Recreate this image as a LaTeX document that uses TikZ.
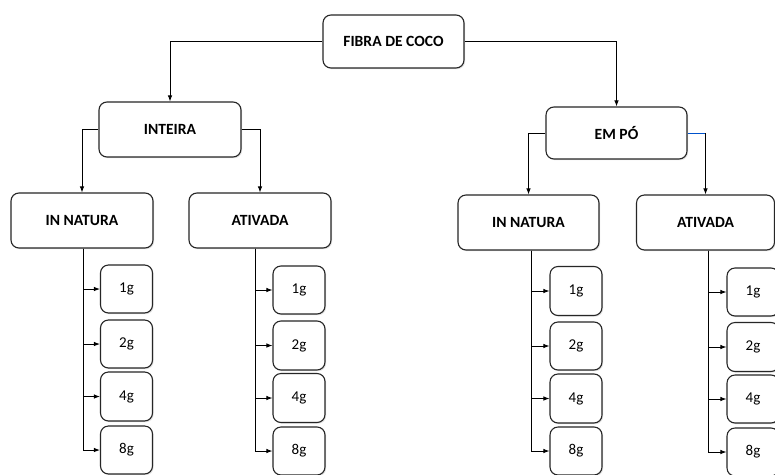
\documentclass[tikz,border=0pt]{standalone}
\usepackage{fontspec}
\setmainfont{Carlito}
\usetikzlibrary{arrows.meta,shadows}
\begin{document}
\begin{tikzpicture}[x=1pt,y=-1pt,
  box/.style={draw=black!85,line width=1.1pt,rounded corners=8pt,fill=white,
    drop shadow={shadow xshift=1.2pt,shadow yshift=-1.2pt,opacity=0.22,fill=gray},
    inner sep=0pt,align=center},
  bigbox/.style={box,font=\bfseries\fontsize{15.6}{17}\selectfont},
  smallbox/.style={box,minimum width=52pt,font=\fontsize{15}{17}\selectfont},
  conn/.style={draw=black,line width=0.9pt,-{Latex[length=6pt,width=4.5pt]}}]
\useasboundingbox (0,0) rectangle (775,474);
\clip (0,0) rectangle (775,474);
\fill[white] (0,0) rectangle (775,474);

% main boxes
\node[bigbox,minimum width=141pt,minimum height=53pt] (fibra) at (393.5,41.5) {FIBRA DE COCO};
\node[bigbox,minimum width=142pt,minimum height=55pt] (inteira) at (170,129.5) {INTEIRA};
\node[bigbox,minimum width=141pt,minimum height=52pt] (empo) at (616.5,133) {EM PÓ};
\node[bigbox,minimum width=142pt,minimum height=55pt] (innatL) at (82,220.5) {IN NATURA};
\node[bigbox,minimum width=142pt,minimum height=55pt] (ativL) at (260,220.5) {ATIVADA};
\node[bigbox,minimum width=141pt,minimum height=55pt] (innatR) at (528.5,222.5) {IN NATURA};
\node[bigbox,minimum width=138pt,minimum height=55pt] (ativR) at (705.5,222.5) {ATIVADA};

% small boxes group 1
\node[smallbox,minimum height=48pt] (a1) at (126.5,289) {1g};
\node[smallbox,minimum height=48pt] (a2) at (126.5,344) {2g};
\node[smallbox,minimum height=49pt] (a4) at (126.5,396.5) {4g};
\node[smallbox,minimum height=48pt] (a8) at (126.5,450) {8g};
% group 2
\node[smallbox,minimum height=48pt] (b1) at (299,290) {1g};
\node[smallbox,minimum height=49pt] (b2) at (299,345.5) {2g};
\node[smallbox,minimum height=49pt] (b4) at (299,398) {4g};
\node[smallbox,minimum height=48pt] (b8) at (299,451) {8g};
% group 3
\node[smallbox,minimum height=49pt] (c1) at (576,291) {1g};
\node[smallbox,minimum height=48pt] (c2) at (576,346) {2g};
\node[smallbox,minimum height=49pt] (c4) at (576,398.5) {4g};
\node[smallbox,minimum height=48pt] (c8) at (576,451) {8g};
% group 4
\node[smallbox,minimum height=48pt] (d1) at (753,292) {1g};
\node[smallbox,minimum height=49pt] (d2) at (753,347) {2g};
\node[smallbox,minimum height=48pt] (d4) at (753,399) {4g};
\node[smallbox,minimum height=48pt] (d8) at (753,452) {8g};

% top connectors
\draw[conn] (fibra.west) -| (inteira.north);
\draw[conn] (fibra.east) -| (empo.north);
\draw[conn] (inteira.west) -| (innatL.north);
\draw[conn] (inteira.east) -| (ativL.north);
\draw[conn] (empo.west) -| (innatR.north);
\draw[draw=blue!60!cyan!80!black,line width=0.9pt] (empo.east) -- (empo.east -| ativR.north);
\draw[conn] (empo.east -| ativR.north) -- (ativR.north);

% lower connectors
\coordinate (gA) at ([xshift=1pt]innatL.south);
\coordinate (gB) at ([xshift=-5pt]ativL.south);
\coordinate (gC) at ([xshift=2.5pt]innatR.south);
\coordinate (gD) at ([xshift=2.5pt]ativR.south);
\foreach \n in {a1,a2,a4,a8} \draw[conn] (gA) |- (\n.west);
\foreach \n in {b1,b2,b4,b8} \draw[conn] (gB) |- (\n.west);
\foreach \n in {c1,c2,c4,c8} \draw[conn] (gC) |- (\n.west);
\foreach \n in {d1,d2,d4,d8} \draw[conn] (gD) |- (\n.west);
\end{tikzpicture}
\end{document}
